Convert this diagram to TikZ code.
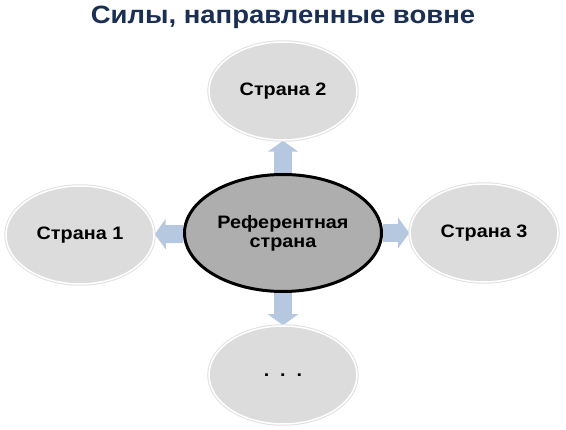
\documentclass[tikz,border=0pt]{standalone}
\usepackage{fontspec}
\setmainfont{Liberation Sans}[FakeStretch=1.1]
\usetikzlibrary{shapes.geometric,arrows.meta,positioning,backgrounds}

\definecolor{titleblue}{HTML}{1B2F52}
\definecolor{reffill}{HTML}{AEAEAE}
\definecolor{landfill}{HTML}{DCDCDC}
\definecolor{arrowblue}{HTML}{B6C8E0}

\tikzset{
  refland/.style={ellipse, draw=black, line width=3pt, fill=reffill,
    minimum width=197pt, minimum height=117pt, inner sep=0pt, align=center,
    font=\fontsize{18}{19}\selectfont\bfseries},
  land/.style={ellipse, draw=white, line width=1.5pt, fill=landfill,
    preaction={draw=black!12, line width=3.5pt},
    minimum width=148pt, minimum height=98pt, inner sep=0pt,
    font=\fontsize{18}{20}\selectfont\bfseries},
  outarrow/.style={draw=arrowblue, line width=18pt,
    -{Triangle[width=30pt,length=11pt]}},
}

\begin{document}
\begin{tikzpicture}

\useasboundingbox (-283pt,-197pt) rectangle (283pt,233pt);

\node (title) at (0,216pt) [titleblue, font=\fontsize{25}{28}\selectfont\bfseries]
  {Силы, направленные вовне};

\node (ref) at (0,0) [refland, align=center] {\strut Референтная\\страна};
\node (land2) at (0,142pt) [land] {Страна 2};
\node (land1) at (-203pt,-2pt) [land] {Страна 1};
\node (land3) at (201pt,0) [land] {Страна 3};
\node (land4) at (0,-142pt) [land] {.\hspace{0.6em}.\hspace{0.6em}.};

\begin{scope}[on background layer]
\draw[outarrow] (ref) -- (land2);
\draw[outarrow] (ref) -- (land1);
\draw[outarrow] (ref) -- (land3);
\draw[outarrow] (ref) -- (land4);
\end{scope}

\end{tikzpicture}
\end{document}
